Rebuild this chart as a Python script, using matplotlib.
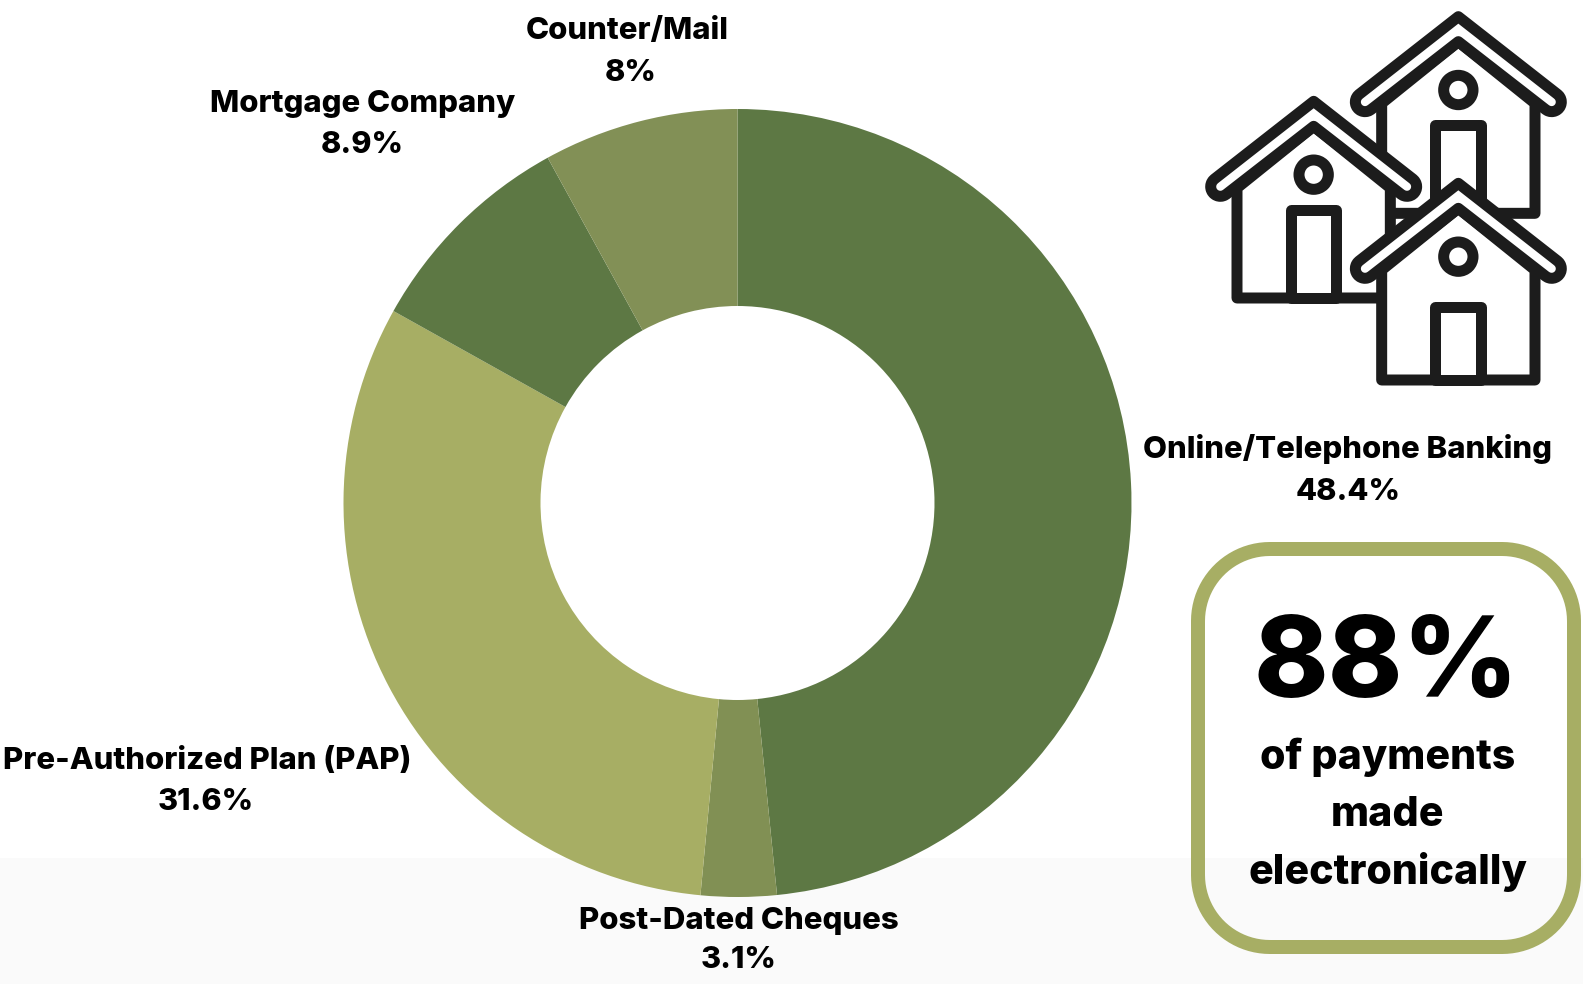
# Mortgage payment methods donut, with the house icon and callout box
import matplotlib
matplotlib.use("Agg")
import matplotlib.pyplot as plt
import numpy as np
from matplotlib.patches import Circle, Polygon, Rectangle

W, H = 1583, 984

methods = ["Online/Telephone Banking", "Post-Dated Cheques", "Pre-Authorized Plan (PAP)",
           "Mortgage Company", "Counter/Mail"]
shares = [48.4, 3.1, 31.6, 8.9, 8]
slice_colors = ["#5d7844", "#819054", "#a7ae64", "#5d7844", "#829056"]

# label centres in image pixels: name row and value row
label_x = [1348, 739, 207, 362.5, 627]
label_y = [449, 921, 761, 104, 31]
value_x = [1348, 739, 206, 362.5, 631]
value_y = [492, 960, 802, 145, 73]

FONT = "Inter"
WEIGHT = 800
INK = "#000000"
ICON = "#1c1c1c"
GREEN = "#a7ae64"


def flip(y):
    return H - y


def px(n):
    # line widths are given in pixels, the figure is 100 dpi
    return n * 0.72


def roof_outline():
    """Closed roof band with round eaves, in crop coordinates of the back house."""
    r = 29
    centre = np.array([525.0, 306.0])
    ang = np.radians(np.linspace(128, 308, 14))
    # arc runs over the outer end of the left eave, y grows downwards here
    left = [(centre[0] + r * np.cos(a), centre[1] - r * np.sin(a)) for a in ang]
    right = [(1610 - x, y) for x, y in reversed(left)]
    return [(805, 50)] + left + [(805, 125)] + right


def rounded_box(x0, y0, x1, y1, r):
    """Outline of a box with true circular corners."""
    pts = []
    corners = [(x1 - r, y1 - r, 0), (x0 + r, y1 - r, 90), (x0 + r, y0 + r, 180), (x1 - r, y0 + r, 270)]
    for cx, cy, start in corners:
        for a in np.radians(np.linspace(start, start + 90, 24)):
            pts.append((cx + r * np.cos(a), cy + r * np.sin(a)))
    return pts


def draw_house(ax, dx, dy, door_top, z):
    """One icon house. Coordinates are in the 3x crop of the icon, shifted by dx, dy."""
    def pt(x, y):
        return (1190 + (x + dx) / 3, flip((y + dy) / 3))

    style = dict(facecolor="white", edgecolor=ICON, linewidth=px(11), joinstyle="round", zorder=z)

    body = [(575, 640), (575, 310), (805, 125), (1035, 310), (1035, 640)]
    ax.add_patch(Polygon([pt(*p) for p in body], closed=True, **style))

    door = [(736, 640), (736, door_top), (873, door_top), (873, 640)]
    ax.add_patch(Polygon([pt(*p) for p in door], closed=True, **style))

    ax.add_patch(Polygon([pt(*p) for p in roof_outline()], closed=True, **style))
    ax.add_patch(Circle(pt(805, 270), 44 / 3, **style))


fig = plt.figure(figsize=(W / 100, H / 100), dpi=100, facecolor="white")
ax = fig.add_axes([0, 0, 1, 1])

# faint grey strip along the bottom of the image
ax.add_patch(Rectangle((0, 0), W, H - 858, facecolor="#fafafa", edgecolor="none", zorder=0))

ax.pie(shares, colors=slice_colors, startangle=90, counterclock=False,
       center=(737.5, flip(503)), radius=394,
       wedgeprops=dict(width=197, edgecolor="none", zorder=2))

ax.set_xlim(0, W)
ax.set_ylim(0, H)
ax.set_aspect("auto")
ax.axis("off")

for name, share, lx, ly, vx, vy in zip(methods, shares, label_x, label_y, value_x, value_y):
    ax.text(lx, flip(ly), name, ha="center", va="center", fontsize=22.4, fontweight=WEIGHT,
            family=FONT, color=INK, zorder=5)
    ax.text(vx, flip(vy), f"{share:g}%", ha="center", va="center", fontsize=22, fontweight=WEIGHT,
            family=FONT, color=INK, zorder=5)

# house icon, back to front
draw_house(ax, 0, 0, 375, 3)
draw_house(ax, -434, 254, 375, 3.1)
draw_house(ax, 0, 500, 421, 3.2)

# callout box
ax.add_patch(Polygon(rounded_box(1198, flip(947), 1574, flip(549), 72), closed=True,
                     facecolor="none", edgecolor=GREEN, linewidth=px(14), zorder=4))
ax.text(1386, flip(667), "88%", ha="center", va="center", fontsize=81, fontweight=WEIGHT,
        family=FONT, color=INK, zorder=5)
for line, y in zip(["of payments", "made", "electronically"], [757, 815, 872]):
    ax.text(1388, flip(y), line, ha="center", va="center", fontsize=29.6, fontweight=WEIGHT,
            family=FONT, color=INK, zorder=5)

fig.savefig("out.png", dpi=100)
